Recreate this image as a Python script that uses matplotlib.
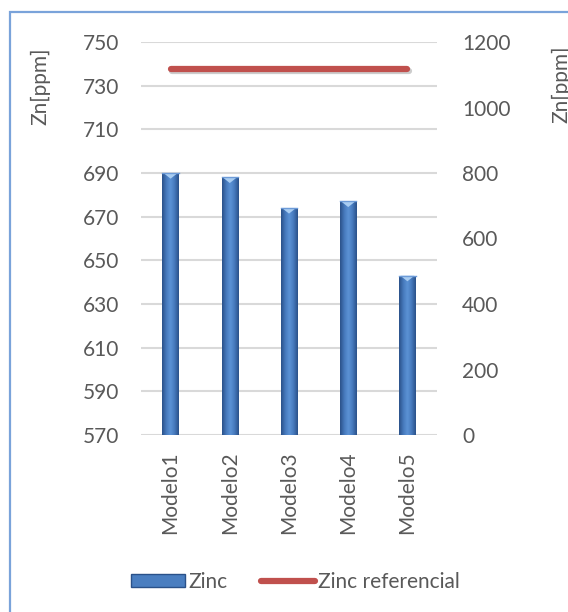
import numpy as np
import matplotlib.pyplot as plt
from matplotlib.colors import LinearSegmentedColormap
from matplotlib.patches import Rectangle, Polygon, Patch
from matplotlib.lines import Line2D
import matplotlib.patheffects as pe

plt.rcParams['font.family'] = ['Lato', 'DejaVu Sans']

modelos = ["Modelo1", "Modelo2", "Modelo3", "Modelo4", "Modelo5"]
zinc = [690, 688, 674, 677, 643]
zinc_ref = [1117, 1117, 1117, 1117, 1117]

left_ticks = np.arange(570, 751, 20)
right_ticks = np.arange(0, 1201, 200)

txt = "#595959"
fs = 15

fig = plt.figure(figsize=(5.68, 6.12), dpi=100)
ax = fig.add_axes([141 / 568, 1 - 435 / 612, 296 / 568, 393 / 612])
ax2 = ax.twinx()

x = np.arange(len(modelos))
w = 0.28

# bars with a cylinder-like shading
cmap = LinearSegmentedColormap.from_list(
    "cyl", ["#2A5189", "#4679BC", "#5C93D6", "#4679BC", "#2A5189"])
grad = np.linspace(0, 1, 64).reshape(1, -1)
bars = ax.bar(x, np.array(zinc) - 570, bottom=570, width=w, color="none",
              edgecolor="none", zorder=3)
for b in bars:
    x0, y0 = b.get_x(), b.get_y()
    bw, bh = b.get_width(), b.get_height()
    im = ax.imshow(grad, cmap=cmap, aspect="auto", zorder=3,
                   extent=[x0, x0 + bw, y0, y0 + bh], interpolation="bicubic")
    im.set_clip_path(b)
    top = y0 + bh
    ax.add_patch(Polygon([[x0 + 0.02, top], [x0 + bw - 0.02, top],
                          [x0 + bw / 2, top - 2.6]], closed=True,
                         facecolor="#A9CDF2", edgecolor="none", zorder=4))
    ax.plot([x0, x0 + bw], [top, top], color="#6D9BD8", lw=1, zorder=4)

ax.set_xlim(-0.5, len(modelos) - 0.5)
ax.set_ylim(570, 750)
ax.set_yticks(left_ticks)
ax.set_xticks(x)
ax.set_xticklabels(modelos, rotation=90, fontsize=fs, color=txt)
ax.tick_params(axis="both", length=0, labelsize=fs, colors=txt)
ax.tick_params(axis="y", pad=16)
ax.tick_params(axis="x", pad=12)
ax.grid(axis="y", color="#D9D9D9", lw=1.5, zorder=0)
ax.set_axisbelow(True)
for s in ax.spines.values():
    s.set_visible(False)

ax2.plot(x, zinc_ref, color="#C0504D", lw=4.5, solid_capstyle="round",
         path_effects=[pe.SimpleLineShadow(offset=(1, -1.5), alpha=0.2),
                       pe.Normal()], zorder=5)
ax2.set_ylim(0, 1200)
ax2.set_yticks(right_ticks)
ax2.tick_params(axis="y", length=0, labelsize=fs, colors=txt, pad=18)
for s in ax2.spines.values():
    s.set_visible(False)

fig.text(40 / 568, 1 - 86 / 612, "Zn[ppm]", rotation=90, fontsize=fs,
         color=txt, ha="center", va="center")
fig.text(561 / 568, 1 - 84 / 612, "Zn[ppm]", rotation=90, fontsize=fs,
         color=txt, ha="center", va="center")

handles = [Patch(facecolor="#4A7EC0", edgecolor="#2A5189", lw=1),
           Line2D([0], [0], color="#C0504D", lw=4.5, solid_capstyle="round")]
fig.legend(handles, ["Zinc", "Zinc referencial"], loc="center",
           bbox_to_anchor=(0.52, 1 - 582 / 612), ncol=2, frameon=False,
           fontsize=fs, labelcolor=txt, handlelength=2.6, handleheight=0.6,
           handletextpad=0.15, columnspacing=1.6)

# chart area outline
fig.add_artist(Rectangle((10 / 568, -0.05), 1.0, 1 - 12 / 612 + 0.05,
                         transform=fig.transFigure, fill=False,
                         edgecolor="#7AA3DA", lw=1.6))

fig.savefig("out.png", dpi=100)
